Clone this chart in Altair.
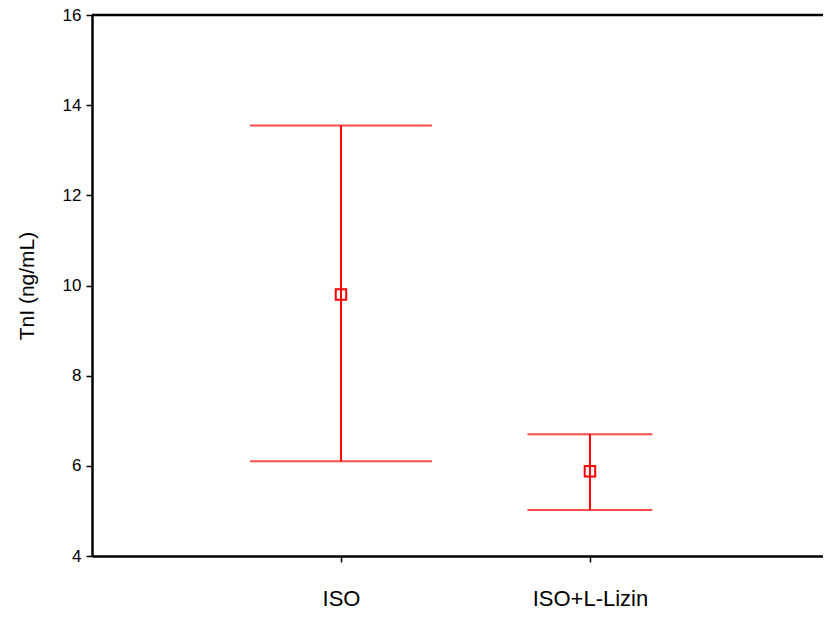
import altair as alt
import pandas as pd

groups = ["ISO", "ISO+L-Lizin"]
positions = [1, 2]
means = [9.80, 5.88]
upper = [13.55, 6.70]
lower = [6.10, 5.02]

df = pd.DataFrame({"group": groups, "pos": positions, "mean": means,
                   "upper": upper, "lower": lower})

W, H = 731, 541
FONT = "Liberation Sans"
RED = "#ff0000"

label_expr = "datum.value == 1 ? 'ISO' : (datum.value == 2 ? 'ISO+L-Lizin' : '')"

xenc = alt.X("pos:Q", scale=alt.Scale(domain=[0, 2.936], nice=False, zero=False),
             axis=alt.Axis(values=[1, 2], labelExpr=label_expr, title=None, grid=False,
                           tickSize=6, tickWidth=1.5, tickColor="black",
                           domainColor="black", domainWidth=2.5,
                           labelFont=FONT, labelFontSize=22, labelColor="black",
                           labelPadding=26))
yscale = alt.Scale(domain=[4, 16], nice=False, zero=False)
yaxis = alt.Axis(values=[4, 6, 8, 10, 12, 14, 16], title="TnI (ng/mL)", grid=False,
                 tickSize=6, tickWidth=1.5, tickColor="black",
                 domainColor="black", domainWidth=2.5,
                 labelFont=FONT, labelFontSize=17, labelColor="black", labelPadding=5,
                 titleFont=FONT, titleFontSize=21, titleFontWeight="normal",
                 titleColor="black", titlePadding=25)

base = alt.Chart(df)

bars = base.mark_rule(color=RED, strokeWidth=2).encode(
    x=xenc,
    y=alt.Y("lower:Q", scale=yscale, axis=yaxis),
    y2="upper:Q",
)

cap_size = alt.condition(alt.datum.group == "ISO", alt.value(182), alt.value(125))

cap_hi = base.mark_tick(color=RED, thickness=2, orient="horizontal").encode(
    x="pos:Q", y="upper:Q", size=cap_size)
cap_lo = base.mark_tick(color=RED, thickness=2, orient="horizontal").encode(
    x="pos:Q", y="lower:Q", size=cap_size)

pts = base.mark_square(filled=False, color=RED, size=110, strokeWidth=2, opacity=1).encode(
    x="pos:Q", y="mean:Q")

top = alt.Chart(pd.DataFrame({"v": [16]})).mark_rule(color="black", strokeWidth=2.5).encode(
    y=alt.Y("v:Q", scale=yscale), x=alt.value(0), x2=alt.value(W))

chart = alt.layer(bars, cap_hi, cap_lo, pts, top).properties(
    width=W, height=H,
    autosize=alt.AutoSizeParams(type="none"),
    padding={"left": 84, "top": 7, "right": 0, "bottom": 53},
).configure_view(stroke=None).configure(background="white")

chart.save("out.html", embed_options={"renderer": "svg", "actions": False})
